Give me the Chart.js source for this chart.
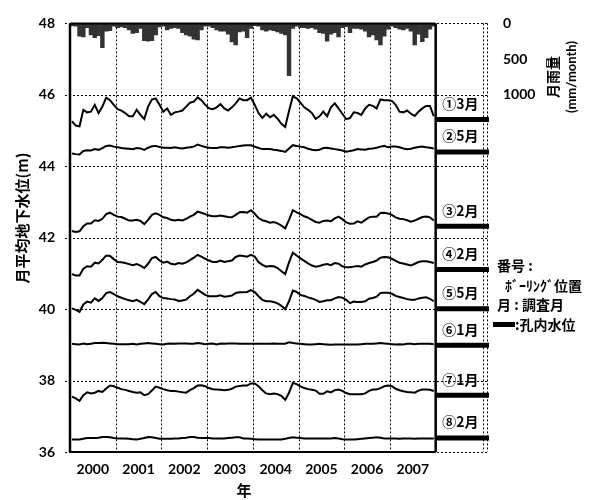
<!DOCTYPE html>
<html>
<head>
<meta charset="utf-8">
<script src="https://cdn.jsdelivr.net/npm/chart.js@4.4.1/dist/chart.umd.min.js"></script>
<style>
body { margin: 0; background: #fff; }
</style>
</head>
<body>
<canvas id="chart" width="601" height="500"></canvas>
<script>
// years on the x axis (12 months each, Jan 2000 - Dec 2007)
const years = ['2000', '2001', '2002', '2003', '2004', '2005', '2006', '2007'];
const levelTicks = [36, 38, 40, 42, 44, 46, 48];
const rainTicks = [0, 500, 1000];

// monthly rainfall (mm/month)
const rain = [
  30, 40, 180, 190, 60, 160, 200, 170, 340, 110, 100, 40,
  60, 50, 60, 90, 140, 130, 70, 240, 250, 240, 160, 50,
  40, 90, 70, 60, 70, 130, 160, 180, 220, 230, 90, 40,
  40, 60, 90, 110, 110, 150, 260, 300, 120, 110, 200, 70,
  30, 40, 90, 110, 90, 100, 120, 140, 160, 730, 70, 40,
  60, 60, 70, 60, 80, 130, 140, 250, 150, 130, 190, 60,
  45, 130, 70, 70, 80, 110, 190, 160, 230, 300, 180, 80,
  40, 60, 80, 90, 70, 110, 300, 150, 255, 200, 80, 40
];

// monthly mean groundwater level (m) per boring
const w1 = [
  45.26, 45.14, 45.12, 45.58, 45.51, 45.53, 45.72, 45.49, 45.67, 45.92, 45.85, 45.72,
  45.60, 45.56, 45.49, 45.40, 45.40, 45.58, 45.44, 45.32, 45.67, 45.87, 45.90, 45.72,
  45.53, 45.62, 45.44, 45.51, 45.53, 45.56, 45.67, 45.78, 45.81, 45.93, 45.85, 45.72,
  45.62, 45.60, 45.65, 45.74, 45.62, 45.56, 45.65, 45.76, 45.90, 45.85, 45.85, 45.92,
  45.72, 45.49, 45.35, 45.47, 45.37, 45.44, 45.33, 45.19, 45.10, 45.55, 45.96, 45.90,
  45.78, 45.65, 45.58, 45.49, 45.33, 45.40, 45.53, 45.40, 45.65, 45.76, 45.62, 45.47,
  45.32, 45.35, 45.51, 45.49, 45.44, 45.62, 45.72, 45.69, 45.62, 45.87, 45.85, 45.85,
  45.83, 45.72, 45.53, 45.51, 45.56, 45.47, 45.41, 45.53, 45.62, 45.69, 45.69, 45.40
];
const w2 = [
  44.36, 44.34, 44.33, 44.43, 44.45, 44.44, 44.48, 44.46, 44.51, 44.57, 44.58, 44.55,
  44.53, 44.51, 44.50, 44.49, 44.48, 44.51, 44.50, 44.46, 44.52, 44.56, 44.57, 44.54,
  44.52, 44.52, 44.51, 44.53, 44.51, 44.50, 44.52, 44.53, 44.55, 44.61, 44.57, 44.54,
  44.52, 44.51, 44.51, 44.53, 44.53, 44.52, 44.53, 44.55, 44.57, 44.58, 44.59, 44.59,
  44.55, 44.51, 44.48, 44.48, 44.48, 44.46, 44.45, 44.43, 44.40, 44.50, 44.59, 44.57,
  44.55, 44.53, 44.49, 44.46, 44.45, 44.46, 44.51, 44.52, 44.50, 44.48, 44.46, 44.44,
  44.41, 44.43, 44.45, 44.48, 44.47, 44.46, 44.49, 44.50, 44.52, 44.55, 44.57, 44.53,
  44.55, 44.55, 44.53, 44.50, 44.48, 44.49, 44.52, 44.54, 44.55, 44.53, 44.52, 44.50
];
const w3 = [
  42.19, 42.16, 42.18, 42.32, 42.40, 42.40, 42.49, 42.47, 42.53, 42.66, 42.70, 42.64,
  42.59, 42.58, 42.53, 42.48, 42.48, 42.50, 42.47, 42.38, 42.50, 42.64, 42.68, 42.64,
  42.57, 42.55, 42.50, 42.48, 42.50, 42.48, 42.53, 42.59, 42.64, 42.73, 42.70, 42.66,
  42.62, 42.60, 42.60, 42.62, 42.60, 42.58, 42.57, 42.64, 42.71, 42.72, 42.70, 42.77,
  42.67, 42.55, 42.49, 42.46, 42.42, 42.44, 42.40, 42.34, 42.26, 42.50, 42.77, 42.71,
  42.66, 42.60, 42.56, 42.50, 42.44, 42.42, 42.47, 42.48, 42.46, 42.54, 42.59, 42.52,
  42.43, 42.39, 42.40, 42.46, 42.42, 42.50, 42.57, 42.59, 42.59, 42.69, 42.70, 42.68,
  42.64, 42.57, 42.53, 42.52, 42.49, 42.45, 42.48, 42.53, 42.58, 42.59, 42.57, 42.48
];
const w4 = [
  40.98, 40.94, 40.94, 41.13, 41.20, 41.19, 41.30, 41.28, 41.38, 41.50, 41.49, 41.40,
  41.32, 41.31, 41.29, 41.26, 41.23, 41.26, 41.22, 41.15, 41.27, 41.43, 41.46, 41.36,
  41.30, 41.33, 41.27, 41.25, 41.29, 41.27, 41.31, 41.37, 41.44, 41.52, 41.47, 41.41,
  41.36, 41.32, 41.32, 41.36, 41.32, 41.34, 41.36, 41.46, 41.50, 41.49, 41.47, 41.52,
  41.47, 41.32, 41.24, 41.19, 41.21, 41.20, 41.15, 41.06, 40.98, 41.31, 41.58, 41.50,
  41.42, 41.35, 41.28, 41.22, 41.19, 41.21, 41.24, 41.26, 41.23, 41.29, 41.27, 41.20,
  41.17, 41.17, 41.19, 41.21, 41.19, 41.25, 41.29, 41.32, 41.36, 41.44, 41.46, 41.45,
  41.41, 41.35, 41.30, 41.28, 41.25, 41.22, 41.27, 41.32, 41.34, 41.34, 41.32, 41.29
];
const w5 = [
  40.02, 39.98, 39.92, 40.13, 40.21, 40.18, 40.30, 40.23, 40.31, 40.45, 40.48, 40.42,
  40.36, 40.32, 40.28, 40.25, 40.22, 40.26, 40.20, 40.14, 40.27, 40.42, 40.48, 40.36,
  40.31, 40.30, 40.28, 40.27, 40.23, 40.24, 40.27, 40.36, 40.43, 40.54, 40.47, 40.40,
  40.36, 40.36, 40.36, 40.39, 40.35, 40.36, 40.38, 40.45, 40.47, 40.47, 40.48, 40.53,
  40.48, 40.36, 40.26, 40.22, 40.22, 40.20, 40.16, 40.09, 40.00, 40.22, 40.52, 40.48,
  40.40, 40.37, 40.33, 40.30, 40.26, 40.20, 40.22, 40.25, 40.25, 40.30, 40.34, 40.32,
  40.26, 40.17, 40.21, 40.20, 40.20, 40.22, 40.29, 40.31, 40.35, 40.45, 40.46, 40.46,
  40.43, 40.37, 40.34, 40.31, 40.28, 40.26, 40.26, 40.30, 40.32, 40.33, 40.29, 40.22
];
const w6 = [
  39.03, 39.02, 39.01, 39.04, 39.02, 39.03, 39.05, 39.05, 39.06, 39.05, 39.04, 39.03,
  39.02, 39.02, 39.02, 39.02, 39.03, 39.01, 39.03, 39.04, 39.05, 39.04, 39.03, 39.02,
  39.01, 39.03, 39.04, 39.03, 39.04, 39.04, 39.04, 39.03, 39.03, 39.05, 39.04, 39.02,
  39.03, 39.04, 39.01, 39.04, 39.03, 39.04, 39.04, 39.04, 39.03, 39.03, 39.03, 39.03,
  39.03, 39.03, 39.03, 39.03, 39.03, 39.04, 39.03, 39.03, 39.03, 39.07, 39.05, 39.04,
  39.03, 39.02, 39.01, 39.01, 39.02, 39.03, 39.02, 39.01, 39.00, 39.01, 39.01, 39.01,
  39.01, 39.01, 39.01, 39.01, 39.02, 39.03, 39.03, 39.03, 39.04, 39.05, 39.04, 39.03,
  39.02, 39.01, 39.02, 39.01, 39.03, 39.03, 39.02, 39.03, 39.03, 39.03, 39.03, 39.02
];
const w7 = [
  37.55, 37.50, 37.43, 37.59, 37.67, 37.64, 37.66, 37.71, 37.68, 37.78, 37.86, 37.84,
  37.80, 37.76, 37.74, 37.71, 37.68, 37.66, 37.67, 37.59, 37.62, 37.72, 37.83, 37.80,
  37.76, 37.73, 37.71, 37.71, 37.69, 37.67, 37.66, 37.73, 37.79, 37.86, 37.87, 37.84,
  37.79, 37.76, 37.75, 37.74, 37.73, 37.74, 37.77, 37.83, 37.85, 37.86, 37.86, 37.92,
  37.92, 37.84, 37.73, 37.64, 37.62, 37.64, 37.62, 37.57, 37.46, 37.66, 37.93, 37.90,
  37.84, 37.79, 37.76, 37.74, 37.72, 37.63, 37.63, 37.70, 37.67, 37.73, 37.75, 37.71,
  37.65, 37.62, 37.62, 37.62, 37.62, 37.64, 37.71, 37.75, 37.75, 37.79, 37.84, 37.86,
  37.84, 37.77, 37.73, 37.70, 37.68, 37.67, 37.66, 37.72, 37.75, 37.75, 37.74, 37.71
];
const w8 = [
  36.35, 36.35, 36.35, 36.37, 36.39, 36.39, 36.39, 36.40, 36.42, 36.42, 36.41, 36.39,
  36.38, 36.38, 36.38, 36.37, 36.36, 36.35, 36.37, 36.39, 36.42, 36.41, 36.39, 36.37,
  36.37, 36.37, 36.37, 36.38, 36.38, 36.39, 36.40, 36.42, 36.42, 36.40, 36.39, 36.39,
  36.39, 36.38, 36.38, 36.38, 36.38, 36.39, 36.40, 36.41, 36.41, 36.38, 36.38, 36.37,
  36.36, 36.35, 36.35, 36.35, 36.35, 36.35, 36.35, 36.35, 36.37, 36.39, 36.41, 36.40,
  36.39, 36.38, 36.38, 36.38, 36.38, 36.38, 36.38, 36.38, 36.38, 36.39, 36.38, 36.36,
  36.35, 36.35, 36.35, 36.36, 36.37, 36.38, 36.39, 36.40, 36.41, 36.40, 36.38, 36.38,
  36.38, 36.38, 36.37, 36.38, 36.38, 36.38, 36.37, 36.38, 36.38, 36.38, 36.38, 36.38
];

// borehole water level (thick bars in the right panel) and labels
const wellNames = ['①3月', '②5月', '③2月', '④2月', '⑤5月', '⑥1月', '⑦1月', '⑧2月'];
const wellLevels = [45.31, 44.40, 42.32, 41.11, 40.01, 38.99, 37.59, 36.39];

const MONTHS = years.length * 12;   // 96
const XMAX = 110;                  // panel on the right
const FONT = 'Lato, "Noto Sans CJK JP", sans-serif';
const CJK = '"Noto Sans CJK JP", sans-serif';
const GRID = '#000';
const DOT = [2, 2];

const wells = [w1, w2, w3, w4, w5, w6, w7, w8];

const datasets = [];
wells.forEach(w => {
  datasets.push({
    type: 'line',
    data: w.map((v, i) => ({ x: i + 0.5, y: v })),
    borderColor: '#000',
    borderWidth: 2,
    pointRadius: 0,
    tension: 0,
    yAxisID: 'y'
  });
});
wellLevels.forEach(lv => {
  datasets.push({
    type: 'line',
    data: [{ x: MONTHS, y: lv }, { x: XMAX, y: lv }],
    borderColor: '#000',
    borderWidth: 5,
    borderCapStyle: 'butt',
    pointRadius: 0,
    yAxisID: 'y'
  });
});
datasets.push({
  type: 'bar',
  data: rain.map((v, i) => ({ x: i + 0.5, y: v })),
  backgroundColor: '#333',
  barPercentage: 1,
  categoryPercentage: 1,
  yAxisID: 'yR'
});

const extras = {
  id: 'extras',
  beforeDatasetsDraw(chart) {
    // dotted grid, drawn from the scales' own tick positions
    const { ctx, chartArea: a, scales: { x, y } } = chart;
    ctx.save();
    ctx.strokeStyle = GRID;
    ctx.lineWidth = 1;
    ctx.setLineDash(DOT);
    levelTicks.forEach(v => {
      const py = Math.round(y.getPixelForValue(v)) + 0.5;
      ctx.beginPath(); ctx.moveTo(a.left - 5, py); ctx.lineTo(a.right, py); ctx.stroke();
    });
    for (let m = 12; m < MONTHS; m += 12) {
      const px = Math.round(x.getPixelForValue(m)) + 0.5;
      ctx.beginPath(); ctx.moveTo(px, a.top); ctx.lineTo(px, a.bottom); ctx.stroke();
    }
    [a.right - 5.5, a.right - 1.5].forEach(px => {
      ctx.beginPath(); ctx.moveTo(px, a.top); ctx.lineTo(px, a.bottom); ctx.stroke();
    });
    ctx.restore();
  },
  afterDatasetsDraw(chart) {
    const { ctx, chartArea: a, scales: { x, y } } = chart;
    const xEnd = x.getPixelForValue(MONTHS);
    ctx.save();
    ctx.strokeStyle = '#000';
    ctx.lineWidth = 2.5;
    ctx.beginPath(); ctx.moveTo(xEnd, a.top); ctx.lineTo(xEnd, a.bottom); ctx.stroke();
    ctx.beginPath(); ctx.moveTo(a.left, a.top); ctx.lineTo(a.left, a.bottom); ctx.stroke();
    ctx.lineWidth = 2;
    ctx.beginPath(); ctx.moveTo(a.left, a.bottom); ctx.lineTo(xEnd, a.bottom); ctx.stroke();
    ctx.beginPath(); ctx.moveTo(a.left, a.top); ctx.lineTo(xEnd, a.top); ctx.stroke();

    ctx.fillStyle = '#000';
    ctx.textBaseline = 'middle';
    // labels in the panel
    ctx.font = 'bold 14px ' + CJK;
    ctx.textAlign = 'center';
    wellNames.forEach((n, i) => {
      ctx.fillText(n, (xEnd + a.right) / 2 - 2, y.getPixelForValue(wellLevels[i]) - 16);
    });

    // legend notes
    ctx.textAlign = 'left';
    ctx.fillText('番号 :', 497, 266);
    ctx.fillText('ﾎﾞｰﾘﾝｸﾞ位置', 505, 286);
    ctx.fillText('月 : 調査月', 497, 305);
    ctx.fillRect(493, 322, 22, 5);
    ctx.fillText(':孔内水位', 515, 325);

    // axis titles
    ctx.textAlign = 'center';
    ctx.font = 'bold 15px ' + CJK;
    ctx.fillText('年', 244, 490);

    ctx.save();
    ctx.translate(22, 218);
    ctx.rotate(-Math.PI / 2);
    ctx.fillText('月平均地下水位(m)', 0, 0);
    ctx.restore();

    ctx.save();
    ctx.translate(553, 77);
    ctx.rotate(-Math.PI / 2);
    ctx.font = 'bold 14px ' + CJK;
    ctx.fillText('月雨量', 0, 0);
    ctx.restore();

    ctx.save();
    ctx.translate(572, 77);
    ctx.rotate(-Math.PI / 2);
    ctx.font = 'bold 13px ' + FONT;
    ctx.fillText('(mm/month)', 0, 0);
    ctx.restore();

    ctx.restore();
  }
};

new Chart(document.getElementById('chart'), {
  type: 'line',
  data: { datasets },
  plugins: [extras],
  options: {
    responsive: false,
    animation: false,
    layout: { padding: { top: 15, left: 0, right: 0, bottom: 0 } },
    plugins: { legend: { display: false }, tooltip: { enabled: false } },
    scales: {
      x: {
        type: 'linear',
        min: 0,
        max: XMAX,
        offset: false,
        afterBuildTicks: s => {
          const t = [];
          for (let v = 6; v < MONTHS; v += 12) t.push({ value: v });
          s.ticks = t;
        },
        afterFit: s => { s.height = 48; },
        grid: { display: false, drawTicks: false },
        border: { display: false },
        ticks: {
          autoSkip: false,
          maxRotation: 0,
          padding: 9,
          color: '#000',
          font: { family: FONT, size: 14, weight: 'bold' },
          callback: v => years[(v - 6) / 12]
        }
      },
      y: {
        position: 'left',
        min: 36,
        max: 48,
        afterBuildTicks: s => { s.ticks = levelTicks.map(v => ({ value: v })); },
        afterFit: s => { s.width = 70; },
        grid: { display: false, drawTicks: false },
        border: { display: false },
        ticks: {
          padding: 15,
          color: '#000',
          font: { family: FONT, size: 14, weight: 'bold' }
        }
      },
      yR: {
        position: 'right',
        reverse: true,
        min: 0,
        max: 5990,
        afterBuildTicks: s => { s.ticks = rainTicks.map(v => ({ value: v })); },
        afterFit: s => { s.width = 112; },
        grid: { display: false, drawTicks: false },
        border: { display: false },
        ticks: {
          padding: 14,
          color: '#000',
          font: { family: FONT, size: 14, weight: 'bold' },
          callback: v => String(v)
        }
      }
    }
  }
});
</script>
</body>
</html>
